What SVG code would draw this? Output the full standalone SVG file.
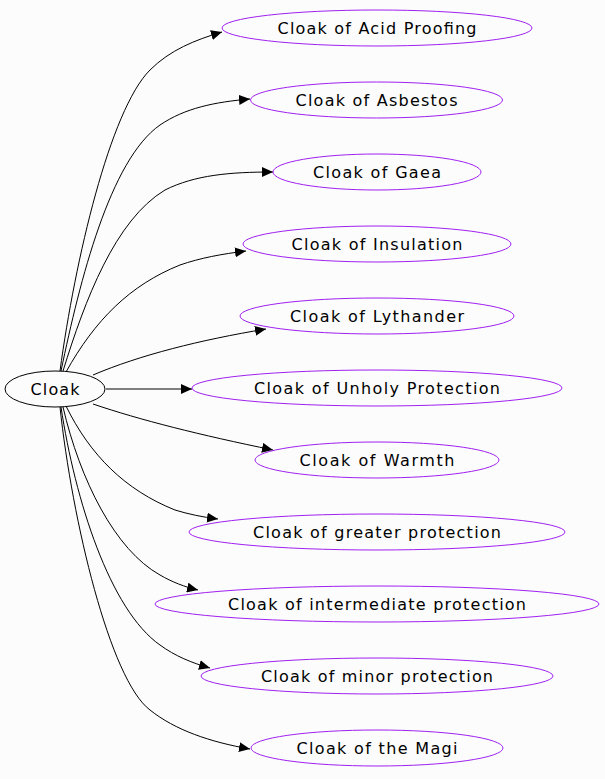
<svg xmlns="http://www.w3.org/2000/svg" width="605" height="779" viewBox="0 0 605 779">
<style>
ellipse{fill:none;stroke-width:1}
.t ellipse{stroke:#a020f0}
.s ellipse{stroke:#000}
text{font-family:"DejaVu Sans",sans-serif;font-size:16px;text-anchor:middle;fill:#000}
#edges path{fill:none;stroke:#000;stroke-width:1}
</style>
<defs><marker id="a" markerWidth="12" markerHeight="10" refX="11" refY="5" orient="auto" markerUnits="userSpaceOnUse"><path d="M0,0 L11,5 L0,10 Z" fill="#000"/></marker></defs>
<rect width="605" height="779" fill="#fcfcfc"/>
<g id="edges">
<path marker-end="url(#a)" d="M60,371 C75,260 110,110 150,70 C170,50 195,40 222,32"/>
<path marker-end="url(#a)" d="M61,371 C80,280 110,160 160,125 C185,108 215,102 250,99"/>
<path marker-end="url(#a)" d="M63,371 C85,300 115,220 165,190 C195,175 230,172 273,172"/>
<path marker-end="url(#a)" d="M66,372 C95,320 130,285 180,265 C200,258 222,254 246,251"/>
<path marker-end="url(#a)" d="M93,375 C140,355 200,340 266,329"/>
<path marker-end="url(#a)" d="M106,389 L192,389"/>
<path marker-end="url(#a)" d="M93,404 C140,420 200,435 273,450"/>
<path marker-end="url(#a)" d="M66,406 C90,455 125,490 175,510 C188,514 202,517 218,519"/>
<path marker-end="url(#a)" d="M63,407 C80,480 115,550 160,575 C172,582 185,587 198,590"/>
<path marker-end="url(#a)" d="M61,407 C75,500 110,610 160,645 C175,656 192,663 210,668"/>
<path marker-end="url(#a)" d="M60,407 C72,520 110,680 150,710 C175,730 210,742 250,749"/>
</g>
<g id="cloak" class="s"><ellipse cx="55" cy="389" rx="50" ry="18"/><text x="55" y="395" textLength="49">Cloak</text></g>
<g id="n1" class="t"><ellipse cx="377" cy="28" rx="155" ry="18"/><text x="377" y="34" textLength="199">Cloak of Acid Proofing</text></g>
<g id="n2" class="t"><ellipse cx="376.5" cy="100" rx="126" ry="18"/><text x="376.5" y="106" textLength="162">Cloak of Asbestos</text></g>
<g id="n3" class="t"><ellipse cx="377" cy="172" rx="104" ry="18"/><text x="377" y="178" textLength="128">Cloak of Gaea</text></g>
<g id="n4" class="t"><ellipse cx="377" cy="244" rx="134" ry="18"/><text x="377" y="250" textLength="171">Cloak of Insulation</text></g>
<g id="n5" class="t"><ellipse cx="377" cy="316" rx="137" ry="18"/><text x="377" y="322" textLength="174">Cloak of Lythander</text></g>
<g id="n6" class="t"><ellipse cx="377" cy="388" rx="185" ry="18"/><text x="377" y="394" textLength="246">Cloak of Unholy Protection</text></g>
<g id="n7" class="t"><ellipse cx="377" cy="460" rx="122" ry="18"/><text x="377" y="466" textLength="155">Cloak of Warmth</text></g>
<g id="n8" class="t"><ellipse cx="377" cy="532" rx="188" ry="18"/><text x="377" y="538" textLength="248">Cloak of greater protection</text></g>
<g id="n9" class="t"><ellipse cx="377" cy="604" rx="222" ry="18"/><text x="377" y="610" textLength="298">Cloak of intermediate protection</text></g>
<g id="n10" class="t"><ellipse cx="377" cy="676" rx="176" ry="18"/><text x="377" y="682" textLength="232">Cloak of minor protection</text></g>
<g id="n11" class="t"><ellipse cx="377" cy="748" rx="126" ry="18"/><text x="377" y="754" textLength="161">Cloak of the Magi</text></g>
</svg>
